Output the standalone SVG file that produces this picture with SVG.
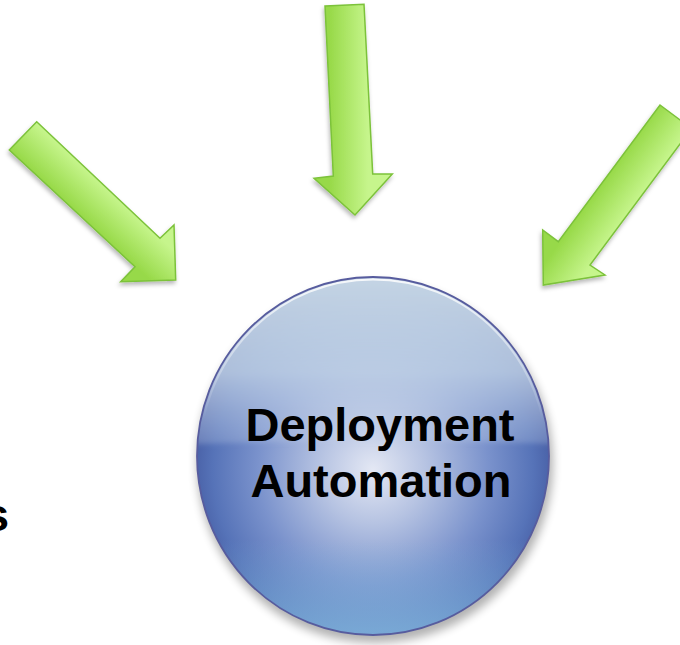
<svg xmlns="http://www.w3.org/2000/svg" width="680" height="645" viewBox="0 0 680 645">
  <style>
    .arrow { stroke: #7cc23a; stroke-width: 1.5; stroke-linejoin: miter; filter: url(#arrowShadow); }
    .label { font-family: "Liberation Sans", Arial, sans-serif; font-weight: bold; font-size: 47px; fill: #000; }
  </style>
  <defs>
    <filter id="arrowShadow" x="-20%" y="-20%" width="140%" height="140%">
      <feDropShadow dx="-1" dy="3" stdDeviation="2" flood-color="#000" flood-opacity="0.28"/>
    </filter>
    <filter id="blur8" x="-20%" y="-20%" width="140%" height="140%">
      <feGaussianBlur stdDeviation="5"/>
    </filter>
    <filter id="blur2" x="-10%" y="-10%" width="120%" height="120%">
      <feGaussianBlur stdDeviation="2.5"/>
    </filter>
    <linearGradient id="gLeft" gradientUnits="userSpaceOnUse" x1="72" y1="208" x2="98" y2="180">
      <stop offset="0" stop-color="#97d948"/>
      <stop offset="1" stop-color="#c6f58c"/>
    </linearGradient>
    <linearGradient id="gMid" gradientUnits="userSpaceOnUse" x1="329" y1="90" x2="368" y2="90">
      <stop offset="0" stop-color="#97d948"/>
      <stop offset="1" stop-color="#c6f58c"/>
    </linearGradient>
    <linearGradient id="gRight" gradientUnits="userSpaceOnUse" x1="609" y1="173" x2="641" y2="196">
      <stop offset="0" stop-color="#97d948"/>
      <stop offset="1" stop-color="#c6f58c"/>
    </linearGradient>
    <radialGradient id="sphereBase" gradientUnits="userSpaceOnUse" cx="373" cy="470" r="178">
      <stop offset="0" stop-color="#e4e8f4"/>
      <stop offset="0.3" stop-color="#b6c3e2"/>
      <stop offset="0.65" stop-color="#7a92cc"/>
      <stop offset="0.9" stop-color="#5673b8"/>
      <stop offset="1" stop-color="#4a62a8"/>
    </radialGradient>
    <linearGradient id="gloss" gradientUnits="userSpaceOnUse" x1="0" y1="277" x2="0" y2="450">
      <stop offset="0" stop-color="#c8d8e6" stop-opacity="0.97"/>
      <stop offset="0.55" stop-color="#c6d6e8" stop-opacity="0.8"/>
      <stop offset="1" stop-color="#c4d2ea" stop-opacity="0.2"/>
    </linearGradient>
    <linearGradient id="bottomRefl" gradientUnits="userSpaceOnUse" x1="0" y1="540" x2="0" y2="635">
      <stop offset="0" stop-color="#86bce0" stop-opacity="0"/>
      <stop offset="1" stop-color="#86bce0" stop-opacity="0.75"/>
    </linearGradient>
    <linearGradient id="rimLight" gradientUnits="userSpaceOnUse" x1="0" y1="277" x2="0" y2="420">
      <stop offset="0" stop-color="#ffffff" stop-opacity="0.85"/>
      <stop offset="1" stop-color="#ffffff" stop-opacity="0"/>
    </linearGradient>
    <clipPath id="sphereClip">
      <ellipse cx="373" cy="456" rx="176" ry="179"/>
    </clipPath>
  </defs>

  <g id="connectors">
    <polygon id="arrow-left" class="arrow" fill="url(#gLeft)"
      points="36.7,121.7 160,238.3 174,225 175.7,280 120.7,281.7 135,266.7 9.3,150"/>
    <polygon id="arrow-middle" class="arrow" fill="url(#gMid)"
      points="325,6 364,4.3 372.7,174 392.3,174 355,215 314,178.3 333.3,176"/>
    <polygon id="arrow-right" class="arrow" fill="url(#gRight)"
      points="660,105 691.5,128.5 590,265 605,275 543.3,285 542.7,230 558.3,241.7"/>
  </g>

  <g id="node-deployment-automation">
    <ellipse cx="375" cy="463" rx="178" ry="180" fill="#000" opacity="0.3" filter="url(#blur8)"/>
    <ellipse cx="373" cy="456" rx="176" ry="179" fill="url(#sphereBase)"/>
    <g clip-path="url(#sphereClip)">
      <path d="M150,260 H600 V446 Q373,436 150,446 Z" fill="url(#gloss)" filter="url(#blur2)"/>
      <rect x="190" y="540" width="370" height="100" fill="url(#bottomRefl)"/>
    </g>
    <ellipse cx="373" cy="456" rx="173.5" ry="176.5" fill="none" stroke="url(#rimLight)" stroke-width="2"/>
    <ellipse cx="373" cy="456" rx="176" ry="179" fill="none" stroke="#575c9e" stroke-width="1.8"/>
    <text class="label" x="380" y="441" text-anchor="middle">Deployment</text>
    <text class="label" x="381" y="497" text-anchor="middle">Automation</text>
  </g>

  <g id="node-partial-text">
    <text class="label" x="-17" y="531">s</text>
  </g>
</svg>
